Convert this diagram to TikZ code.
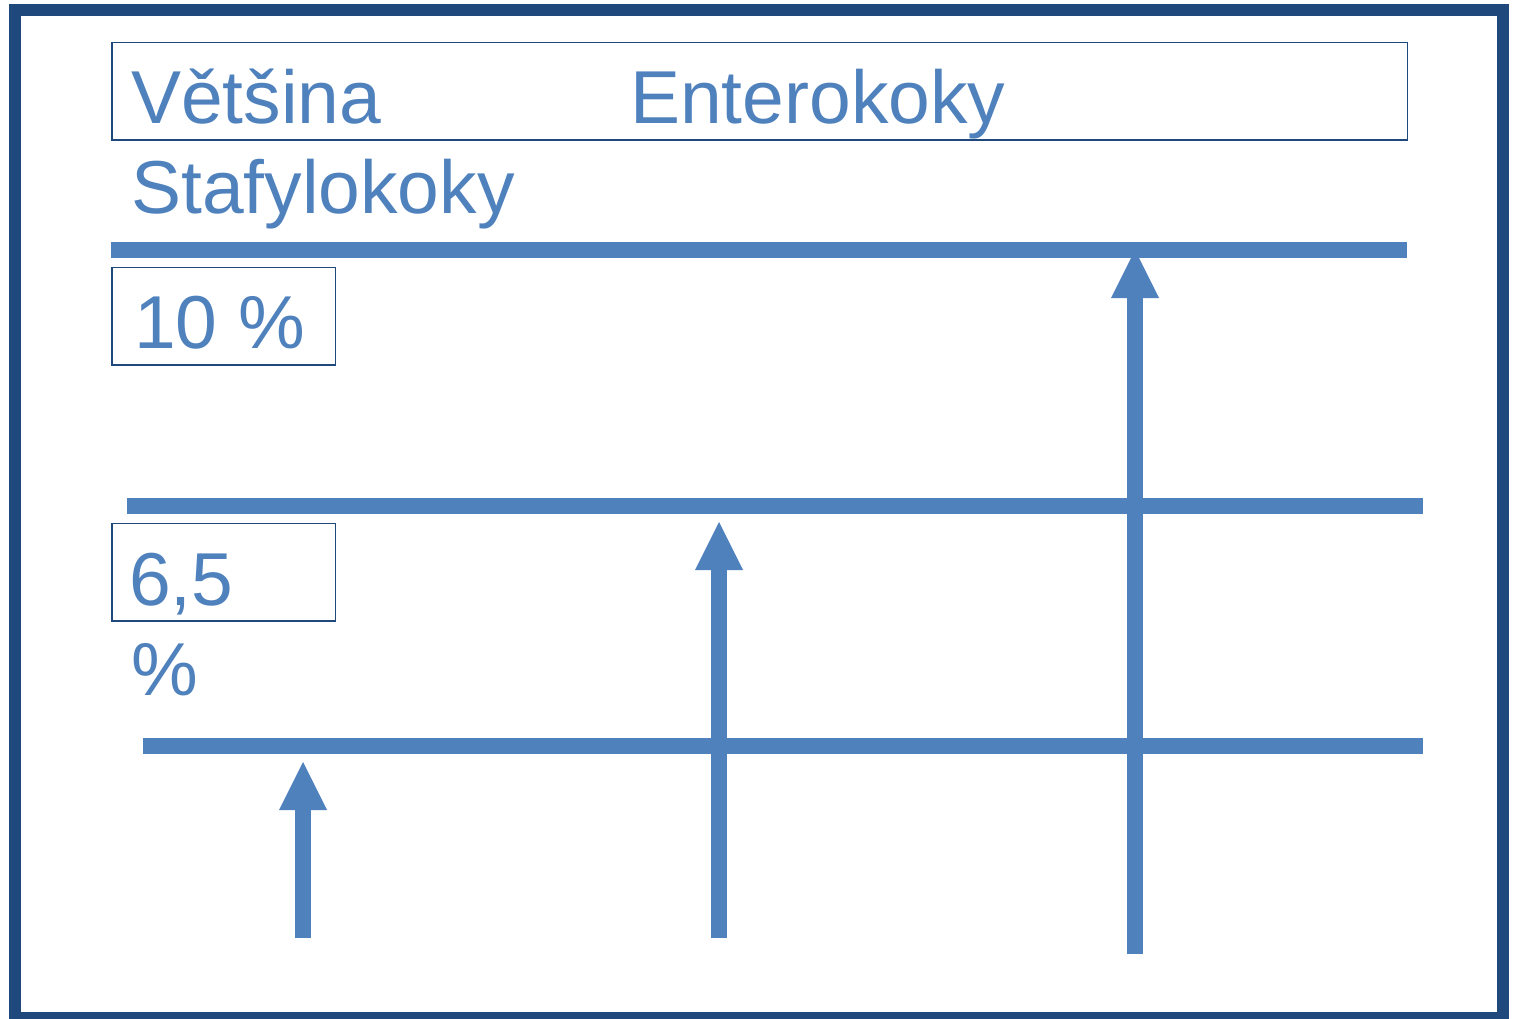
\documentclass[tikz,border=0pt]{standalone}
\usepackage{fontspec}
\setmainfont{Liberation Sans}
\usetikzlibrary{arrows.meta}
\definecolor{frameblue}{HTML}{1F497D}
\definecolor{lineblue}{HTML}{4F81BD}
\tikzset{
  framebox/.style={draw=frameblue, line width=12pt},
  textbox/.style={draw=frameblue, line width=1.5pt, rectangle, inner sep=0pt, anchor=north west},
  label/.style={text=lineblue, inner sep=0pt, anchor=base west, font=\fontsize{75pt}{90pt}\selectfont},
  level/.style={draw=lineblue, line width=16pt, line cap=butt},
  uparrow/.style={draw=lineblue, line width=16pt, line cap=butt,
    -{Triangle[width=48pt, length=48pt, line width=0pt, fill=lineblue]}}
}
\begin{document}
\begin{tikzpicture}[x=1pt, y=-1pt]
\useasboundingbox (0,0) rectangle (1514,1019);
% outer frame
\draw[framebox] (15,10) rectangle (1503,1018);
% boxes
\node[textbox, minimum width=1295.5pt, minimum height=97.5pt] (topbox) at (111,42) {};
\node[textbox, minimum width=223.5pt, minimum height=97.5pt] (boxten) at (111,266.5) {};
\node[textbox, minimum width=223.5pt, minimum height=97.5pt] (boxsix) at (111,522.5) {};
% texts
\node[label] (vetsina) at (131,124) {Většina};
\node[label] (entero) at (630,124) {Enterokoky};
\node[label] (stafylo) at (131,213) {Stafylokoky};
\node[label] (ten) at (134,348) {10 \%};
\node[label] (six) at (129,605) {6,5};
\node[label] (pct) at (131,695) {\%};
% level lines
\coordinate (l1a) at (110.7,250); \coordinate (l1b) at (1407,250);
\coordinate (l2a) at (127,506);   \coordinate (l2b) at (1423,506);
\coordinate (l3a) at (143,746);   \coordinate (l3b) at (1423,746);
% arrows
\coordinate (a1s) at (303,938);  \coordinate (a1t) at (303,762);
\coordinate (a2s) at (719,938);  \coordinate (a2t) at (719,522);
\coordinate (a3s) at (1135,954); \coordinate (a3t) at (1135,250);
\draw[uparrow] (a1s) -- (a1t);
\draw[uparrow] (a2s) -- (a2t);
\draw[uparrow] (a3s) -- (a3t);
\draw[level] (l1a) -- (l1b);
\draw[level] (l2a) -- (l2b);
\draw[level] (l3a) -- (l3b);
\end{tikzpicture}
\end{document}
